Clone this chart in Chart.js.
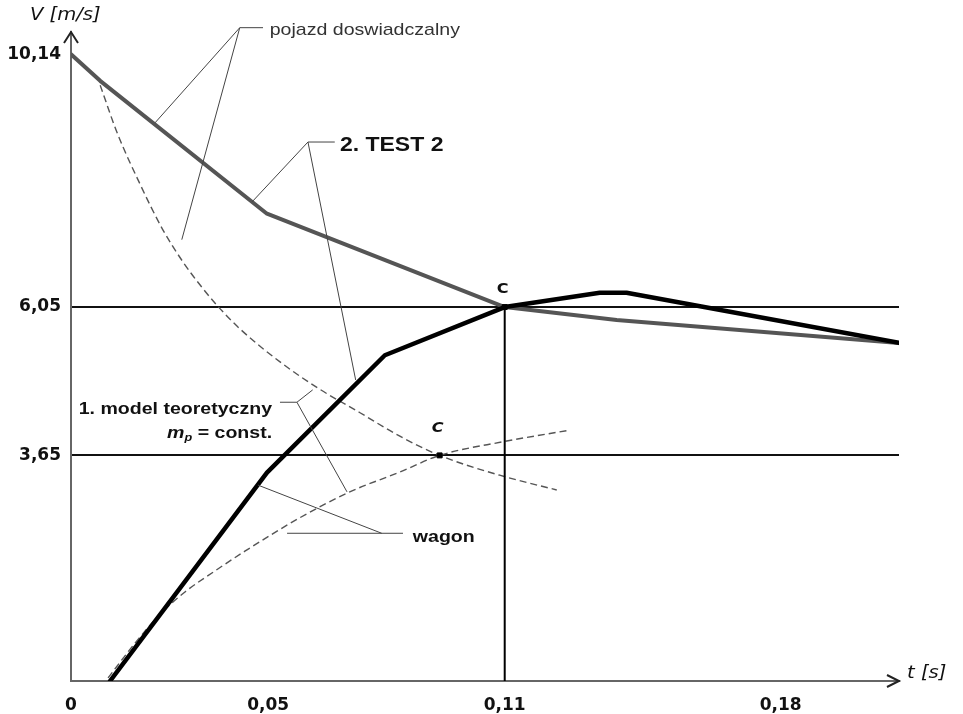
<!DOCTYPE html>
<html>
<head>
<meta charset="utf-8">
<script src="https://cdn.jsdelivr.net/npm/chart.js@4.4.1/dist/chart.umd.min.js"></script>
<style>
  body { margin: 0; background: #fff; }
</style>
</head>
<body>
<canvas id="chart" width="963" height="714"></canvas>
<script>
// time t [s] and velocity V [m/s]
var testPojazdT = [0, 0.0074, 0.0497, 0.11, 0.1384, 0.21];
var testPojazdV = [10.14, 9.71, 7.56, 6.05, 5.84, 5.47];

var testWagonT = [0.0099, 0.0497, 0.0796, 0.11, 0.1341, 0.1409, 0.21];
var testWagonV = [0, 3.37, 5.27, 6.05, 6.28, 6.28, 5.47];

var modelPojazdT = [0.0074, 0.0117, 0.0175, 0.0233, 0.0284, 0.0327, 0.0370, 0.0428, 0.0537, 0.0631, 0.0733, 0.0834, 0.0935, 0.1087, 0.1232];
var modelPojazdV = [9.64, 8.87, 8.04, 7.30, 6.78, 6.41, 6.08, 5.70, 5.13, 4.72, 4.34, 3.96, 3.65, 3.33, 3.09];

var modelWagonT = [0.0094, 0.0162, 0.0226, 0.0289, 0.0365, 0.0441, 0.0580, 0.0707, 0.0834, 0.0935, 0.1095, 0.1257];
var modelWagonV = [0.05, 0.61, 1.08, 1.44, 1.78, 2.10, 2.64, 3.06, 3.38, 3.65, 3.87, 4.05];

var pointTest = [0.11, 6.05];
var pointModel = [0.0935, 3.65];

var xTicks = [0, 0.05, 0.11, 0.18];
var yTicks = [3.65, 6.05, 10.14];

function pts(t, v) {
    return t.map(function (x, i) { return { x: x, y: v[i] }; });
}

function fmt(v) {
    return v === 0 ? '0' : v.toFixed(2).replace('.', ',');
}

// the original drawing is a bit wide, so its text is stretched sideways
var SX = 1.15;

function stretchText(ctx, str, x, y, font, align, color) {
    ctx.save();
    ctx.font = font;
    ctx.fillStyle = color || '#111';
    ctx.textAlign = align || 'left';
    ctx.textBaseline = 'middle';
    ctx.translate(x, y);
    ctx.scale(SX, 1);
    ctx.fillText(str, 0, 0);
    ctx.restore();
}

// callouts, anchored in chart units
var callouts = [
    { text: 'pojazd doswiadczalny', font: '17px "Liberation Sans"', color: '#333', at: [0.0504, 10.53],
      segs: [[[0.0487, 10.57], [0.0428, 10.57]], [[0.0428, 10.57], [0.0213, 9.03]], [[0.0428, 10.57], [0.0281, 7.14]]] },
    { text: '2. TEST 2', font: 'bold 20px "Liberation Sans"', at: [0.0682, 8.67],
      segs: [[[0.0669, 8.72], [0.0601, 8.72]], [[0.0601, 8.72], [0.0459, 7.75]], [[0.0601, 8.72], [0.0722, 4.87]]] },
    { text: '1. model teoretyczny', font: 'bold 17px "Liberation Sans"', at: [0.0510, 4.39], align: 'right',
      segs: [[[0.0530, 4.51], [0.0573, 4.51]], [[0.0573, 4.51], [0.0613, 4.71]], [[0.0573, 4.51], [0.0700, 3.06]]] },
    { text: 'wagon', font: 'bold 17px "Liberation Sans"', at: [0.0867, 2.33],
      segs: [[[0.0842, 2.39], [0.0548, 2.39]], [[0.0788, 2.39], [0.0474, 3.17]]] }
];

var decor = {
    id: 'decor',
    afterDraw: function (chart) {
        var ctx = chart.ctx, xs = chart.scales.x, ys = chart.scales.y, a = chart.chartArea;
        function px(p) { return [xs.getPixelForValue(p[0]), ys.getPixelForValue(p[1])]; }

        // axis arrows
        ctx.save();
        ctx.strokeStyle = '#222';
        ctx.lineWidth = 2;
        ctx.beginPath();
        ctx.moveTo(a.left - 7, a.top + 11); ctx.lineTo(a.left, a.top); ctx.lineTo(a.left + 7, a.top + 11);
        ctx.moveTo(a.right - 12, a.bottom - 6); ctx.lineTo(a.right, a.bottom); ctx.lineTo(a.right - 12, a.bottom + 6);
        ctx.stroke();
        ctx.restore();

        stretchText(ctx, 'V [m/s]', a.left - 41, a.top - 16, 'italic 17px "DejaVu Sans"', 'left');
        stretchText(ctx, 't [s]', a.right + 8, a.bottom - 7, 'italic 17px "DejaVu Sans"', 'left');

        // callout leaders and texts
        ctx.save();
        ctx.strokeStyle = '#444';
        ctx.lineWidth = 1;
        callouts.forEach(function (c) {
            c.segs.forEach(function (s) {
                var p0 = px(s[0]), p1 = px(s[1]);
                ctx.beginPath();
                ctx.moveTo(p0[0], p0[1]);
                ctx.lineTo(p1[0], p1[1]);
                ctx.stroke();
            });
            var p = px(c.at);
            stretchText(ctx, c.text, p[0], p[1], c.font, c.align, c.color);
        });
        ctx.restore();

        // second line of the model label: m_p = const.
        var q = px([0.0510, 4.01]);
        ctx.save();
        ctx.font = 'bold 17px "Liberation Sans"';
        var wRest = ctx.measureText(' = const.').width;
        ctx.font = 'italic bold 17px "Liberation Sans"';
        var wM = ctx.measureText('m').width;
        ctx.font = 'italic bold 11px "Liberation Sans"';
        var wP = ctx.measureText('p').width;
        var x0 = q[0] - (wM + wP + wRest) * SX;
        ctx.restore();
        stretchText(ctx, 'm', x0, q[1], 'italic bold 17px "Liberation Sans"');
        stretchText(ctx, 'p', x0 + wM * SX, q[1] + 5, 'italic bold 11px "Liberation Sans"');
        stretchText(ctx, ' = const.', x0 + (wM + wP) * SX, q[1], 'bold 17px "Liberation Sans"');

        // C labels
        var c1 = px(pointTest), c2 = px(pointModel);
        stretchText(ctx, 'C', c1[0] - 2, c1[1] - 18, 'bold 14px "DejaVu Sans"', 'center');
        stretchText(ctx, 'C', c2[0] - 2, c2[1] - 27, 'italic bold 14px "DejaVu Sans"', 'center');
    }
};

new Chart(document.getElementById('chart'), {
    type: 'line',
    data: {
        datasets: [
            {
                label: 'C',
                data: [{ x: pointTest[0], y: pointTest[1] }, { x: pointModel[0], y: pointModel[1] }],
                showLine: false,
                pointStyle: 'rect',
                pointRadius: 3.5,
                backgroundColor: '#000',
                borderColor: '#000'
            },
            {
                label: 'TEST 2 wagon',
                data: pts(testWagonT, testWagonV),
                borderColor: '#000',
                borderWidth: 4.5,
                borderJoinStyle: 'round',
                borderCapStyle: 'round',
                pointRadius: 0
            },
            {
                label: 'TEST 2 pojazd doswiadczalny',
                data: pts(testPojazdT, testPojazdV),
                borderColor: '#555',
                borderWidth: 4,
                borderJoinStyle: 'round',
                borderCapStyle: 'round',
                pointRadius: 0
            },
            {
                label: 't = 0,11',
                data: [{ x: pointTest[0], y: 0 }, { x: pointTest[0], y: pointTest[1] }],
                borderColor: '#000',
                borderWidth: 2,
                pointRadius: 0
            },
            {
                label: 'model pojazd',
                data: pts(modelPojazdT, modelPojazdV),
                borderColor: '#555',
                borderWidth: 1.4,
                borderDash: [7, 4],
                cubicInterpolationMode: 'monotone',
                pointRadius: 0
            },
            {
                label: 'model wagon',
                data: pts(modelWagonT, modelWagonV),
                borderColor: '#555',
                borderWidth: 1.4,
                borderDash: [7, 4],
                cubicInterpolationMode: 'monotone',
                pointRadius: 0
            }
        ]
    },
    options: {
        responsive: false,
        animation: false,
        layout: { padding: { top: 32, right: 64, left: 0, bottom: 0 } },
        plugins: {
            legend: { display: false },
            tooltip: { enabled: false }
        },
        scales: {
            x: {
                type: 'linear',
                min: 0,
                max: 0.21,
                afterBuildTicks: function (s) { s.ticks = xTicks.map(function (v) { return { value: v }; }); },
                afterFit: function (s) { s.height = 33; },
                grid: { display: false },
                border: { display: true, color: '#666', width: 2 },
                ticks: {
                    padding: 6,
                    autoSkip: false,
                    maxRotation: 0,
                    color: '#111',
                    font: { family: '"DejaVu Sans"', size: 17, weight: 'bold' },
                    callback: function (v) { return fmt(v); }
                }
            },
            y: {
                min: 0,
                max: 10.5,
                afterBuildTicks: function (s) { s.ticks = yTicks.map(function (v) { return { value: v }; }); },
                afterFit: function (s) { s.width = 71; },
                grid: {
                    drawTicks: false,
                    lineWidth: 2,
                    color: function (c) {
                        return c.tick && c.tick.value !== yTicks[yTicks.length - 1] ? '#111' : 'rgba(0,0,0,0)';
                    }
                },
                border: { display: true, color: '#666', width: 2 },
                ticks: {
                    padding: 10,
                    autoSkip: false,
                    color: '#111',
                    font: { family: '"DejaVu Sans"', size: 17, weight: 'bold' },
                    callback: function (v) { return fmt(v); }
                }
            }
        }
    },
    plugins: [decor]
});
</script>
</body>
</html>
